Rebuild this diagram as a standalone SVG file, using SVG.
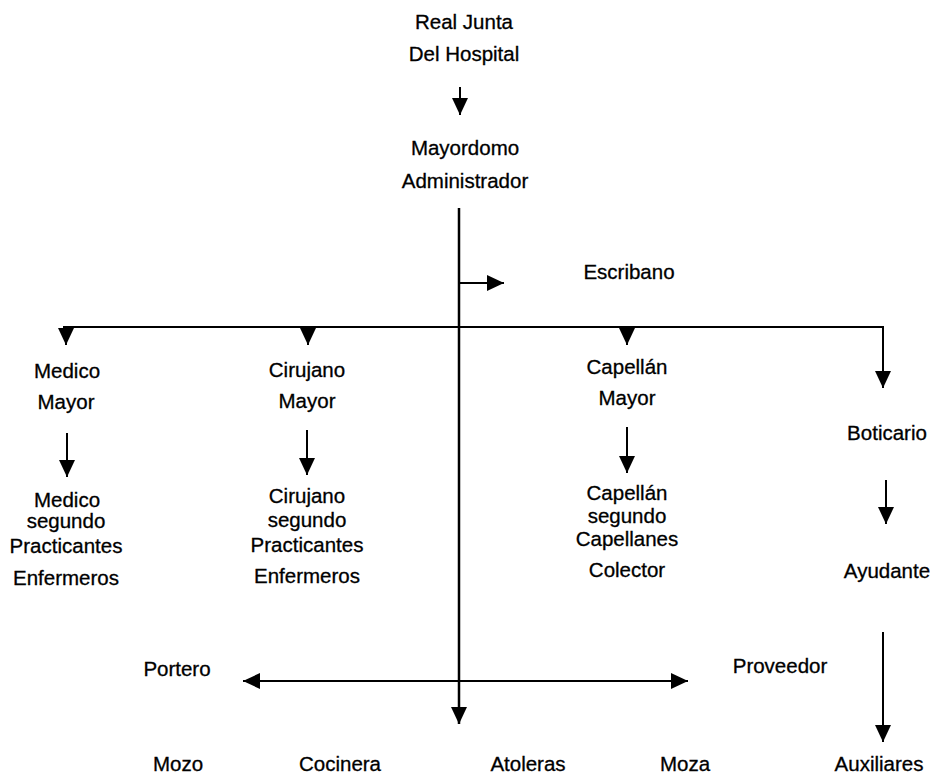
<svg xmlns="http://www.w3.org/2000/svg" width="932" height="774" viewBox="0 0 932 774">
<defs>
<marker id="ah" markerUnits="userSpaceOnUse" markerWidth="17" markerHeight="16" refX="17" refY="8" orient="auto">
<path d="M0,0 L17,8 L0,16 z" fill="#000"/>
</marker>
<marker id="ahs" markerUnits="userSpaceOnUse" markerWidth="17" markerHeight="16" refX="0" refY="8" orient="auto">
<path d="M17,0 L0,8 L17,16 z" fill="#000"/>
</marker>
</defs>
<style>
text{font-family:"Liberation Sans",Arial,sans-serif;font-size:20.5px;fill:#000;stroke:#000;stroke-width:0.3;text-anchor:middle}
.c{stroke:#000;stroke-width:2;fill:none}
.m{stroke-width:2.5}
</style>
<rect width="932" height="774" fill="#fff"/>
<g id="connectors">
<path class="c" d="M460,87 V115" marker-end="url(#ah)"/>
<path class="c m" d="M459,208 V724" marker-end="url(#ah)"/>
<path class="c" d="M459,283 H504" marker-end="url(#ah)"/>
<path class="c" d="M63,327 H883 V388" marker-end="url(#ah)"/>
<path class="c" d="M66,327 V345" marker-end="url(#ah)"/>
<path class="c" d="M308,327 V345" marker-end="url(#ah)"/>
<path class="c" d="M627,327 V345" marker-end="url(#ah)"/>
<path class="c" d="M67,433 V477" marker-end="url(#ah)"/>
<path class="c" d="M307,430 V475" marker-end="url(#ah)"/>
<path class="c" d="M627,427 V473" marker-end="url(#ah)"/>
<path class="c" d="M886,480 V524" marker-end="url(#ah)"/>
<path class="c" d="M883,632 V742" marker-end="url(#ah)"/>
<path class="c" d="M243,681 H688" marker-start="url(#ahs)" marker-end="url(#ah)"/>
</g>
<g id="real-junta"><text x="464" y="29">Real Junta</text><text x="464" y="61">Del Hospital</text></g>
<g id="mayordomo"><text x="465" y="155">Mayordomo</text><text x="465" y="188">Administrador</text></g>
<g id="escribano"><text x="629" y="279">Escribano</text></g>
<g id="medico-mayor"><text x="67" y="378">Medico</text><text x="66" y="409">Mayor</text></g>
<g id="medico-segundo"><text x="67" y="507">Medico</text><text x="66" y="528">segundo</text><text x="66" y="553">Practicantes</text><text x="66" y="585">Enfermeros</text></g>
<g id="cirujano-mayor"><text x="307" y="377">Cirujano</text><text x="307" y="408">Mayor</text></g>
<g id="cirujano-segundo"><text x="307" y="503">Cirujano</text><text x="307" y="527">segundo</text><text x="307" y="552">Practicantes</text><text x="307" y="583">Enfermeros</text></g>
<g id="capellan-mayor"><text x="627" y="374">Capellán</text><text x="627" y="405">Mayor</text></g>
<g id="capellan-segundo"><text x="627" y="500">Capellán</text><text x="627" y="523">segundo</text><text x="627" y="546">Capellanes</text><text x="627" y="577">Colector</text></g>
<g id="boticario"><text x="887" y="440">Boticario</text></g>
<g id="ayudante"><text x="887" y="578">Ayudante</text></g>
<g id="portero"><text x="177" y="676">Portero</text></g>
<g id="proveedor"><text x="780" y="673">Proveedor</text></g>
<g id="mozo"><text x="178" y="771">Mozo</text></g>
<g id="cocinera"><text x="340" y="771">Cocinera</text></g>
<g id="atoleras"><text x="528" y="771">Atoleras</text></g>
<g id="moza"><text x="685" y="771">Moza</text></g>
<g id="auxiliares"><text x="879" y="771">Auxiliares</text></g>
</svg>
